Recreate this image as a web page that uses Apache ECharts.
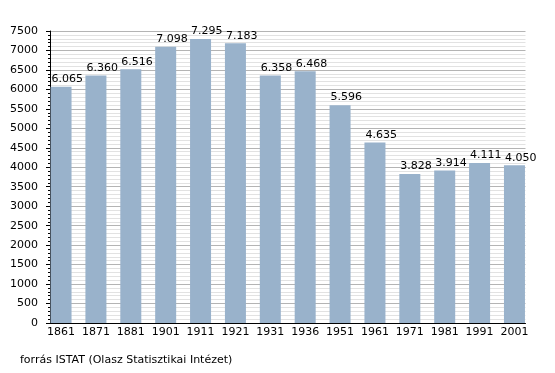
<!DOCTYPE html>
<html><head><meta charset="utf-8">
<script src="https://cdn.jsdelivr.net/npm/echarts@6/dist/echarts.min.js"></script>
<style>html,body{margin:0;padding:0;background:#fff}#c{width:555px;height:373px}</style>
</head><body><div id="c"></div>
<script>
const years = ['1861','1871','1881','1901','1911','1921','1931','1936','1951','1961','1971','1981','1991','2001'];
const population = [6065,6360,6516,7098,7295,7183,6358,6468,5596,4635,3828,3914,4111,4050];
const sourceText = 'forrás ISTAT (Olasz Statisztikai Intézet)';

const fmt = v => String(v).replace(/\B(?=(\d{3})+(?!\d))/g, '.');
const font = 'DejaVu Sans';
const chart = echarts.init(document.getElementById('c'));
chart.setOption({
  animation: false,
  textStyle: {fontFamily: font},
  grid: [
    {left: 50, top: 31, width: 475.5, height: 292, containLabel: false},
    {left: 43.6, top: 31, width: 488.3, height: 292, containLabel: false}
  ],
  graphic: [{type: 'text', left: 20, top: 355, style: {text: sourceText, fontFamily: font, fontSize: 11, fill: '#000'}}],
  xAxis: [
    {gridIndex: 0, type: 'value', min: 0, max: 1, axisLabel: {show: false}, axisTick: {show: false}, splitLine: {show: false},
     axisLine: {show: true, onZero: false, lineStyle: {color: '#000', width: 1}}},
    {gridIndex: 1, type: 'category', data: years, boundaryGap: true, axisLine: {show: false}, axisTick: {show: false},
     axisLabel: {color: '#000', fontSize: 11, fontFamily: font, margin: 4, interval: 0}}
  ],
  yAxis: [
    {gridIndex: 0, type: 'value', min: 0, max: 7500, interval: 500,
     axisLine: {show: true, lineStyle: {color: '#000'}},
     axisTick: {show: true, length: 4, lineStyle: {color: '#000'}},
     minorTick: {show: true, splitNumber: 5, length: 2, lineStyle: {color: '#000'}},
     axisLabel: {color: '#000', fontSize: 11, fontFamily: font, margin: 12, formatter: v => String(v)},
     splitLine: {show: true, lineStyle: {color: '#b4b4b4', width: 1}},
     minorSplitLine: {show: true, lineStyle: {color: '#e2e2e2', width: 1}}},
    {gridIndex: 1, type: 'value', min: 0, max: 7500, show: false, splitLine: {show: false}}
  ],
  series: [{
    type: 'bar', xAxisIndex: 1, yAxisIndex: 1, data: population, barWidth: 21,
    itemStyle: {color: '#99b2cb'},
    label: {show: true, position: [1, -2], align: 'left', verticalAlign: 'bottom', color: '#000', fontSize: 11, fontFamily: font, formatter: p => fmt(p.value)}
  }]
});
</script></body></html>
